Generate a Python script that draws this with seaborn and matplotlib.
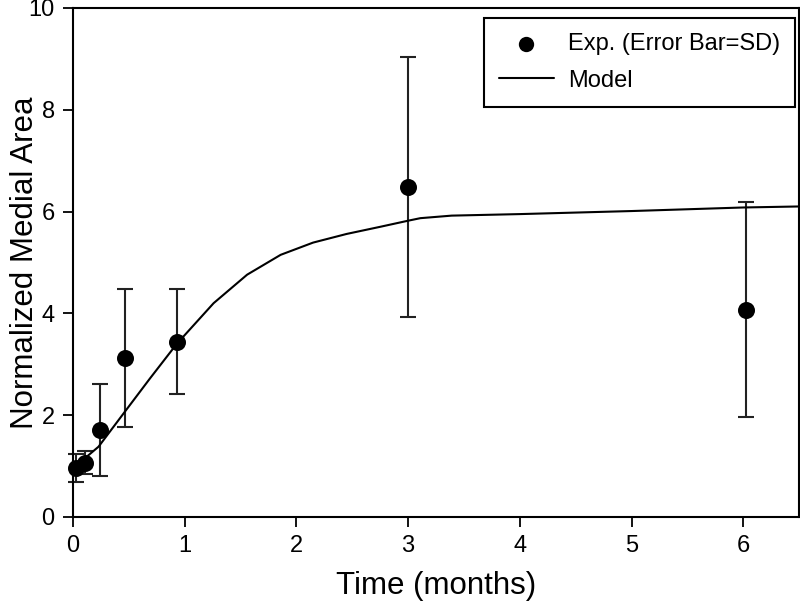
import matplotlib
matplotlib.use("Agg")
import matplotlib.pyplot as plt
import seaborn as sns
import pandas as pd

# experimental points (mean and SD)
exp_time = [0.03, 0.11, 0.24, 0.47, 0.93, 3.0, 6.02]
exp_area = [0.96, 1.07, 1.71, 3.12, 3.44, 6.48, 4.07]
exp_sd = [0.28, 0.23, 0.90, 1.36, 1.03, 2.56, 2.11]

# model curve
model_time = [0.0, 0.09, 0.23, 0.47, 0.69, 0.93, 1.26, 1.56, 1.86, 2.15,
              2.45, 2.75, 3.0, 3.11, 3.39, 4.0, 5.0, 6.0, 6.5]
model_area = [0.85, 1.12, 1.38, 2.08, 2.72, 3.40, 4.20, 4.76, 5.15, 5.39,
              5.56, 5.70, 5.82, 5.87, 5.92, 5.95, 6.01, 6.08, 6.10]

sns.set_style("ticks")
plt.rcParams['font.family'] = ['Liberation Sans', 'DejaVu Sans']
plt.rcParams['text.color'] = 'black'
plt.rcParams['axes.labelcolor'] = 'black'
plt.rcParams['xtick.color'] = 'black'
plt.rcParams['ytick.color'] = 'black'

exp_df = pd.DataFrame({'time': exp_time, 'area': exp_area})
model_df = pd.DataFrame({'time': model_time, 'area': model_area})

fig = plt.figure(figsize=(8, 6.01), dpi=100)
ax = fig.add_axes([0.091, 0.1398, 0.908, 0.847])

ax.errorbar(exp_time, exp_area, yerr=exp_sd, fmt='none', ecolor='#222222',
            elinewidth=1.5, capsize=6, capthick=1.5, clip_on=False, zorder=2)
sns.lineplot(data=model_df, x='time', y='area', color='black', linewidth=1.5,
             ax=ax, label='Model', zorder=3, estimator=None)
sns.scatterplot(data=exp_df, x='time', y='area', color='black', s=150,
                edgecolor='black', linewidth=0, ax=ax, zorder=4,
                label='Exp. (Error Bar=SD)', clip_on=False)

ax.set_xlim(0, 6.5)
ax.set_ylim(0, 10)
ax.set_xticks([0, 1, 2, 3, 4, 5, 6])
ax.set_yticks([0, 2, 4, 6, 8, 10])
ax.tick_params(labelsize=17, length=7, width=1.3, pad=6, color='black',
               labelcolor='black')
for s in ax.spines.values():
    s.set_linewidth(1.5)
    s.set_color('black')
    s.set_visible(True)

ax.set_xlabel('Time (months)', fontsize=22.5, labelpad=10)
ax.set_ylabel('Normalized Medial Area', fontsize=22.5)
ax.yaxis.set_label_coords(-0.045, 0.5)

handles, labels = ax.get_legend_handles_labels()
order = [labels.index('Exp. (Error Bar=SD)'), labels.index('Model')]
leg = ax.legend([handles[i] for i in order], [labels[i] for i in order],
                loc='upper right', bbox_to_anchor=(0.9945, 0.98),
                borderaxespad=0, fontsize=17,
                frameon=True, fancybox=False, handlelength=2.3,
                handletextpad=0.6, labelspacing=0.6, borderpad=0.65,
                markerscale=0.9)
leg.get_frame().set_edgecolor('black')
leg.get_frame().set_linewidth(1.5)
leg.get_frame().set_alpha(1)

fig.savefig('out.png', dpi=100)
